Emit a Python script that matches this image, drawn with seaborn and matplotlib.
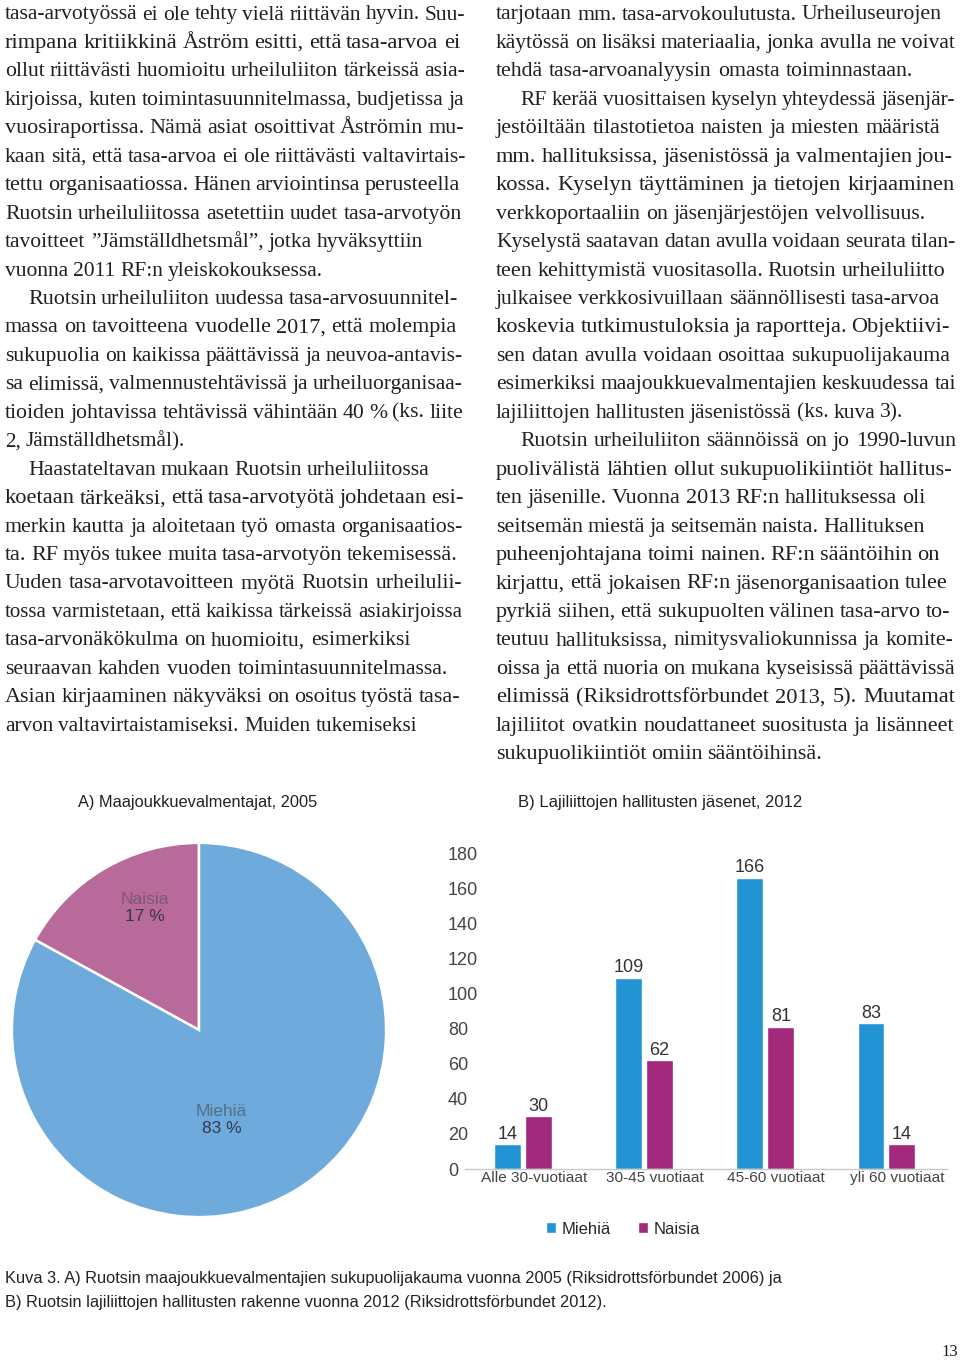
import matplotlib.pyplot as plt
import matplotlib.transforms as mtransforms
import seaborn as sns
import pandas as pd
import numpy as np

# leipäteksti, rivi kerrallaan
left_lines = [
    "tasa-arvotyössä ei ole tehty vielä riittävän hyvin. Suu-",
    "rimpana kritiikkinä Åström esitti, että tasa-arvoa ei",
    "ollut riittävästi huomioitu urheiluliiton tärkeissä asia-",
    "kirjoissa, kuten toimintasuunnitelmassa, budjetissa ja",
    "vuosiraportissa. Nämä asiat osoittivat Åströmin mu-",
    "kaan sitä, että tasa-arvoa ei ole riittävästi valtavirtais-",
    "tettu organisaatiossa. Hänen arviointinsa perusteella",
    "Ruotsin urheiluliitossa asetettiin uudet tasa-arvotyön",
    "tavoitteet ”Jämställdhetsmål”, jotka hyväksyttiin",
    "vuonna 2011 RF:n yleiskokouksessa.",
    "Ruotsin urheiluliiton uudessa tasa-arvosuunnitel-",
    "massa on tavoitteena vuodelle 2017, että molempia",
    "sukupuolia on kaikissa päättävissä ja neuvoa-antavis-",
    "sa elimissä, valmennustehtävissä ja urheiluorganisaa-",
    "tioiden johtavissa tehtävissä vähintään 40 % (ks. liite",
    "2, Jämställdhetsmål).",
    "Haastateltavan mukaan Ruotsin urheiluliitossa",
    "koetaan tärkeäksi, että tasa-arvotyötä johdetaan esi-",
    "merkin kautta ja aloitetaan työ omasta organisaatios-",
    "ta. RF myös tukee muita tasa-arvotyön tekemisessä.",
    "Uuden tasa-arvotavoitteen myötä Ruotsin urheilulii-",
    "tossa varmistetaan, että kaikissa tärkeissä asiakirjoissa",
    "tasa-arvonäkökulma on huomioitu, esimerkiksi",
    "seuraavan kahden vuoden toimintasuunnitelmassa.",
    "Asian kirjaaminen näkyväksi on osoitus työstä tasa-",
    "arvon valtavirtaistamiseksi. Muiden tukemiseksi",
]
right_lines = [
    "tarjotaan mm. tasa-arvokoulutusta. Urheiluseurojen",
    "käytössä on lisäksi materiaalia, jonka avulla ne voivat",
    "tehdä tasa-arvoanalyysin omasta toiminnastaan.",
    "RF kerää vuosittaisen kyselyn yhteydessä jäsenjär-",
    "jestöiltään tilastotietoa naisten ja miesten määristä",
    "mm. hallituksissa, jäsenistössä ja valmentajien jou-",
    "kossa. Kyselyn täyttäminen ja tietojen kirjaaminen",
    "verkkoportaaliin on jäsenjärjestöjen velvollisuus.",
    "Kyselystä saatavan datan avulla voidaan seurata tilan-",
    "teen kehittymistä vuositasolla. Ruotsin urheiluliitto",
    "julkaisee verkkosivuillaan säännöllisesti tasa-arvoa",
    "koskevia tutkimustuloksia ja raportteja. Objektiivi-",
    "sen datan avulla voidaan osoittaa sukupuolijakauma",
    "esimerkiksi maajoukkuevalmentajien keskuudessa tai",
    "lajiliittojen hallitusten jäsenistössä (ks. kuva 3).",
    "Ruotsin urheiluliiton säännöissä on jo 1990-luvun",
    "puolivälistä lähtien ollut sukupuolikiintiöt hallitus-",
    "ten jäsenille. Vuonna 2013 RF:n hallituksessa oli",
    "seitsemän miestä ja seitsemän naista. Hallituksen",
    "puheenjohtajana toimi nainen. RF:n sääntöihin on",
    "kirjattu, että jokaisen RF:n jäsenorganisaation tulee",
    "pyrkiä siihen, että sukupuolten välinen tasa-arvo to-",
    "teutuu hallituksissa, nimitysvaliokunnissa ja komite-",
    "oissa ja että nuoria on mukana kyseisissä päättävissä",
    "elimissä (Riksidrottsförbundet 2013, 5). Muutamat",
    "lajiliitot ovatkin noudattaneet suositusta ja lisänneet",
    "sukupuolikiintiöt omiin sääntöihinsä.",
]
# rivien oikeat reunat (px) ja kappaleiden sisennykset
left_ends = [465, 460, 465, 464, 464, 465, 460, 462, 423, 323, 458, 457, 463,
             463, 463, 185, 430, 464, 462, 458, 462, 462, 410, 448, 460, 417]
right_ends = [942, 955, 913, 955, 940, 953, 955, 925, 956, 945, 940, 950, 950,
              956, 903, 956, 952, 925, 925, 940, 948, 950, 953, 955, 955, 954, 822]
left_indent = [10, 16]
right_indent = [3, 15]

# A) piirakka
pie_labels = ["Naisia", "Miehiä"]
pie_values = [17, 83]

# B) pylväät
age_groups = ["Alle 30-vuotiaat", "30-45 vuotiaat", "45-60 vuotiaat", "yli 60 vuotiaat"]
miehia = [14, 109, 166, 83]
naisia = [30, 62, 81, 14]

caption_lines = [
    "Kuva 3. A) Ruotsin maajoukkuevalmentajien sukupuolijakauma vuonna 2005 (Riksidrottsförbundet 2006) ja",
    "B) Ruotsin lajiliittojen hallitusten rakenne vuonna 2012 (Riksidrottsförbundet 2012).",
]

INK = "#231f20"
BLUE_PIE = "#6eaadc"
PINK_PIE = "#b86a9b"
BLUE = "#2394d3"
PURPLE = "#a3297c"

sns.set_style("white")
plt.rcParams["font.family"] = ["Liberation Sans", "DejaVu Sans"]

W, H = 960, 1360
fig = plt.figure(figsize=(W / 100, H / 100), dpi=100)
renderer = fig.canvas.get_renderer()


def body_line(text, x0, x1, baseline, size=16.1):
    words = text.split()
    while True:
        items = [fig.text(0, 0, w, fontsize=size, family="Liberation Serif",
                          color=INK, va="baseline") for w in words]
        widths = [t.get_window_extent(renderer).width for t in items]
        space = (x1 - x0 - sum(widths)) / max(len(words) - 1, 1)
        if space >= 4.5 or len(words) == 1:
            break
        for t in items:
            t.remove()
        size -= 0.2
    x = x0
    for t, w in zip(items, widths):
        t.set_position((x / W, 1 - baseline / H))
        x += w + space


#本文
for i, line in enumerate(left_lines):
    ind = 23 if i in left_indent else 0
    body_line(line, 5 + ind, left_ends[i], 19.5 + 28.45 * i)
for i, line in enumerate(right_lines):
    ind = 24 if i in right_indent else 0
    body_line(line, 496 + ind, right_ends[i], 19.5 + 28.45 * i)

# A) piirakka
ax_pie = fig.add_axes([10 / W, 1 - 1219 / H, 378 / W, 378 / H])
wedges, _ = ax_pie.pie(pie_values, colors=[PINK_PIE, BLUE_PIE], startangle=90,
                       counterclock=True,
                       wedgeprops=dict(edgecolor="white", linewidth=1.8))
ax_pie.set_xlim(-1.01, 1.01)
ax_pie.set_ylim(-1.01, 1.01)
pie_text_pos = [(-0.29, 0.65), (0.12, -0.48)]
name_colors = ["#7b5870", "#546f88"]
for (px, py), lab, val, nc in zip(pie_text_pos, pie_labels, pie_values, name_colors):
    ax_pie.text(px, py + 0.045, lab, ha="center", va="center", fontsize=12.5, color=nc)
    ax_pie.text(px, py - 0.045, "{} %".format(val), ha="center", va="center",
                fontsize=12.5, color="#37374a")
fig.text(78 / W, 1 - 802 / H, "A) Maajoukkuevalmentajat, 2005", fontsize=11.8,
         color="#222222", va="center")

# B) pylväät
df = pd.DataFrame({"ikä": age_groups * 2,
                   "määrä": miehia + naisia,
                   "sukupuoli": ["Miehiä"] * 4 + ["Naisia"] * 4})
ax = fig.add_axes([465 / W, 1 - 1169 / H, 482 / W, 316 / H])
sns.barplot(data=df, x="ikä", y="määrä", hue="sukupuoli", palette=[BLUE, PURPLE],
            saturation=1, width=0.51, gap=0.13, ax=ax)
ax.set_xlim(-0.48, 3.5)
ax.set_ylim(0, 180)
ax.set_yticks(np.arange(0, 181, 20))
ax.set_xlabel("")
ax.set_ylabel("")
for s in ["top", "right", "left"]:
    ax.spines[s].set_visible(False)
ax.spines["bottom"].set_color("#c8c8c8")
ax.spines["bottom"].set_linewidth(1.0)
ax.tick_params(axis="y", length=0, pad=12.2, labelsize=13, labelcolor="#444444")
ax.tick_params(axis="x", length=0, pad=1.5, labelsize=11.1, labelcolor="#444444")
for lab in ax.get_yticklabels():
    lab.set_ha("left")
shift = mtransforms.ScaledTranslation(11 / 100, 0, fig.dpi_scale_trans)
for lab in ax.get_xticklabels():
    lab.set_transform(lab.get_transform() + shift)
for c in ax.containers:
    ax.bar_label(c, padding=1.0, fontsize=13, color="#333333")
sns.move_legend(ax, "center", bbox_to_anchor=(0.328, -0.19), ncol=2, frameon=False,
                title=None, fontsize=12, handlelength=0.6, handleheight=0.6,
                handletextpad=0.35, columnspacing=1.6)
fig.text(518 / W, 1 - 802 / H, "B) Lajiliittojen hallitusten jäsenet, 2012",
         fontsize=12, color="#222222", va="center")

# kuvateksti
for i, line in enumerate(caption_lines):
    fig.text(5 / W, 1 - (1278 + 24 * i) / H, line, fontsize=11.8, color="#222222",
             va="center")
fig.text(958 / W, 1 - 1356 / H, "13", fontsize=12, family="Liberation Serif",
         color=INK, ha="right", va="baseline")

plt.savefig("out.png", dpi=100)
